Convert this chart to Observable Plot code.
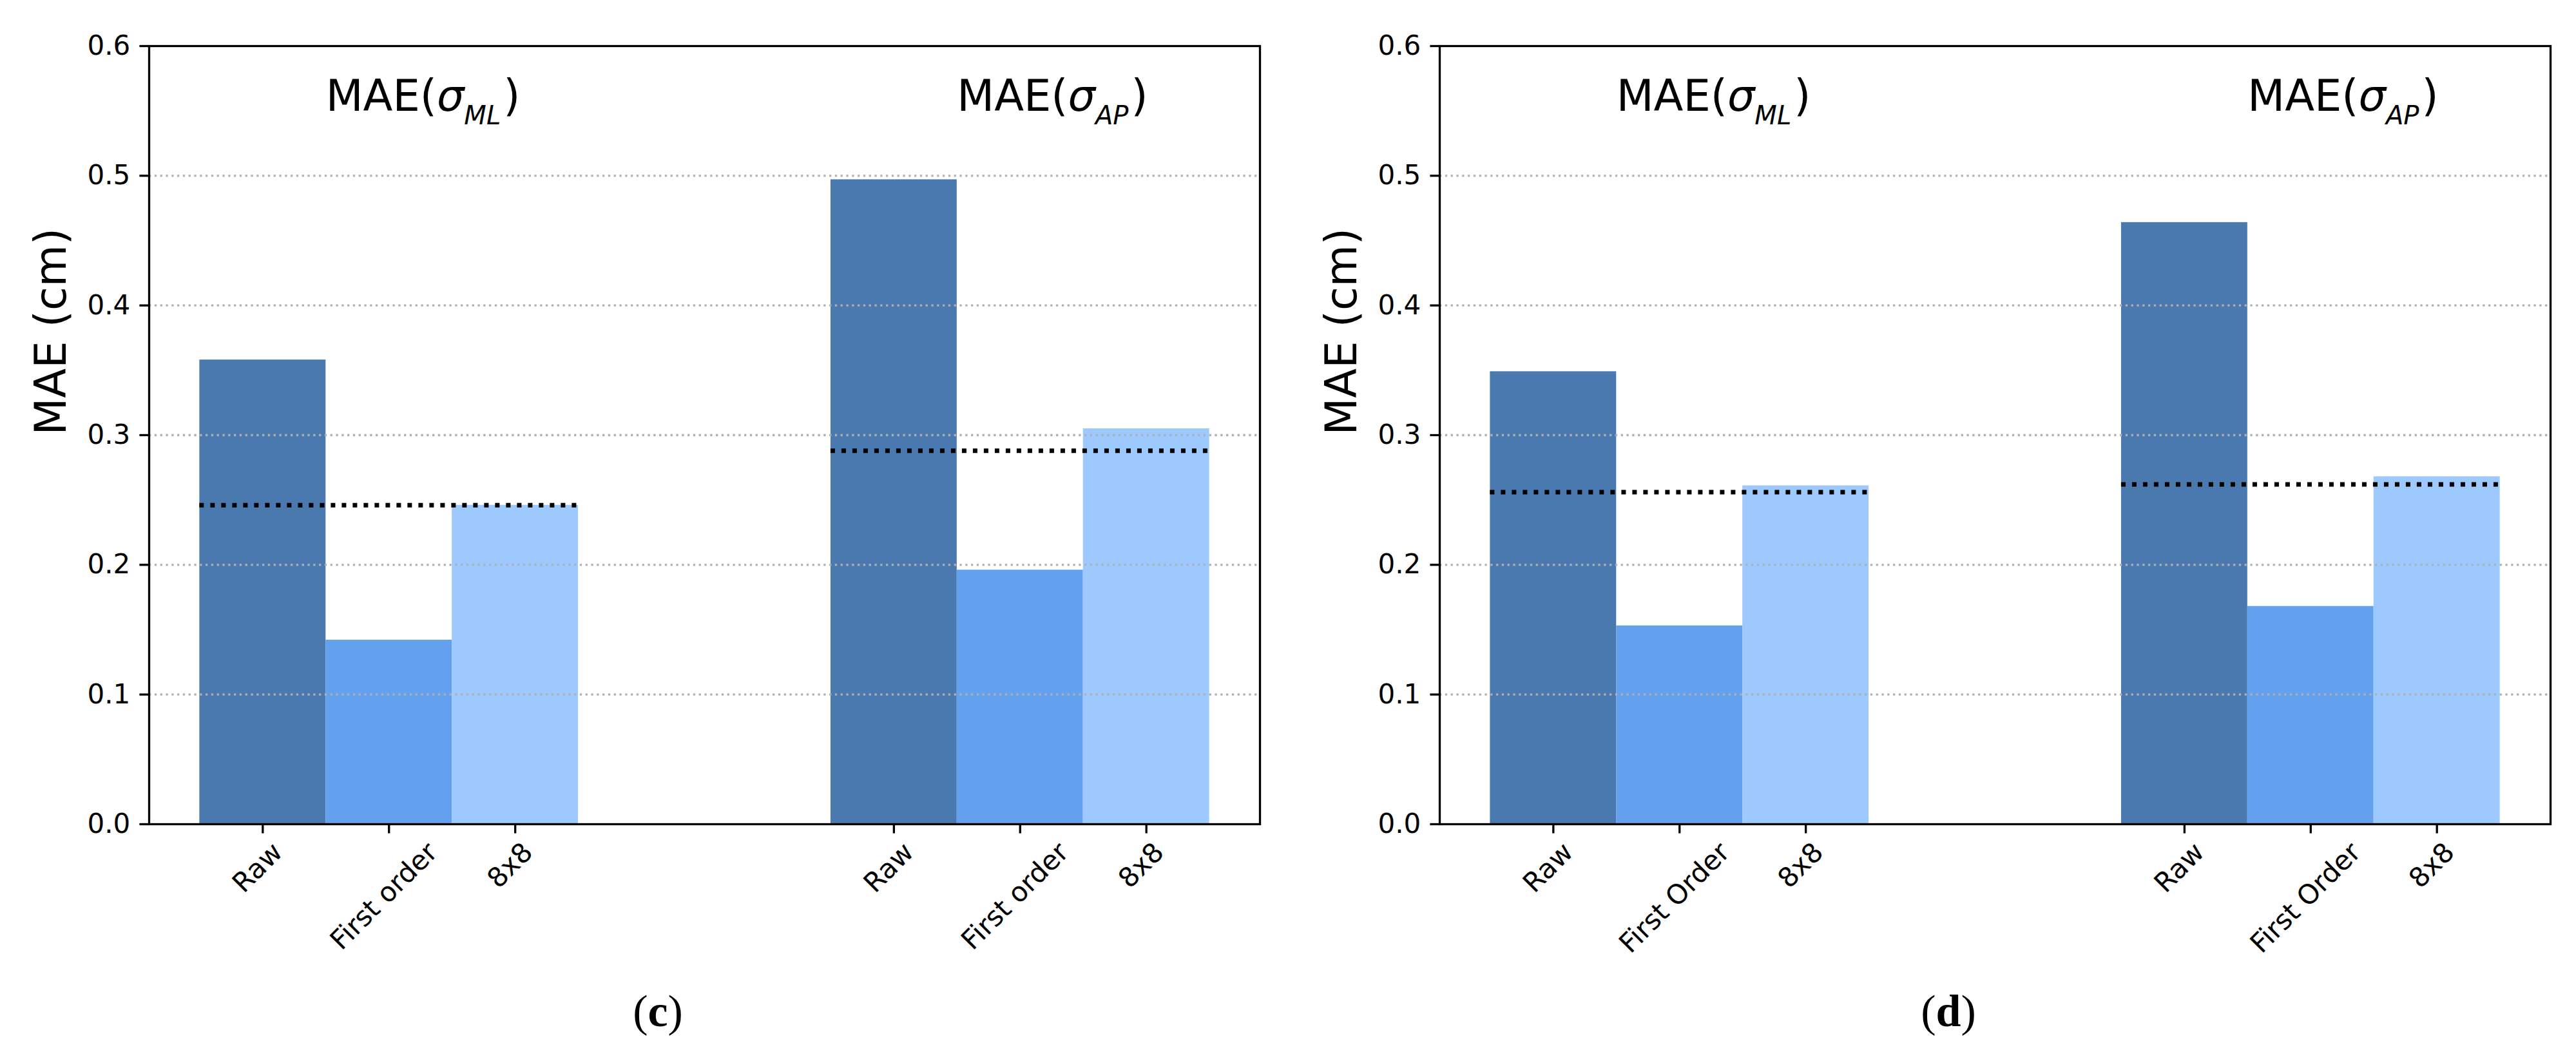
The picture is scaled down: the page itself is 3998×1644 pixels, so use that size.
<!DOCTYPE html>
<html>
<head>
<meta charset="utf-8">
<script src="https://cdn.jsdelivr.net/npm/d3@7"></script>
<script src="https://cdn.jsdelivr.net/npm/@observablehq/plot@0.6"></script>
<style>
  body { margin: 0; background: #fff; }
  #page { position: relative; width: 3998px; height: 1644px; }
  .panel { position: absolute; top: 0; width: 1999px; height: 1644px; }
  .caption { position: absolute; left: 0; width: 2042px; top: 1535px; text-align: center;
             font: 70px/1 "Liberation Serif", serif; color: #000; }
</style>
</head>
<body>
<div id="page"></div>
<script>
// groups (sigma subscripts) and bar categories
const groups = ["ML", "AP"];
const methodsC = ["Raw", "First order", "8x8"];
const methodsD = ["Raw", "First Order", "8x8"];

// panel (c)
const maeC_ML = [0.358, 0.142, 0.246];
const maeC_AP = [0.497, 0.196, 0.305];
const meanC = [0.246, 0.288];

// panel (d)
const maeD_ML = [0.349, 0.153, 0.261];
const maeD_AP = [0.464, 0.168, 0.268];
const meanD = [0.256, 0.262];

const yTicks = [0, 0.1, 0.2, 0.3, 0.4, 0.5, 0.6];
const gridTicks = [0.1, 0.2, 0.3, 0.4, 0.5];
const annotY = 0.55;

const barColors = ["#4a79b0", "#63a1ee", "#9dc9fe"];

const W = 1999, H = 1460;
const mL = 231, mR = 44, mT = 71, mB = 181;
const lw = 3.3; // matplotlib 0.8pt at 300 dpi

// canvas to measure tick label lengths (for matplotlib-like centred rotated labels)
const ctx = document.createElement("canvas").getContext("2d");
ctx.font = "42px 'DejaVu Sans'";

function panel(methods, ml, ap, means, tag, left) {
  const vals = [ml, ap];
  const slots = [...methods.map((m, i) => `${groups[0]}|${i}`), "gap1", "gap2",
                 ...methods.map((m, i) => `${groups[1]}|${i}`)];
  const rows = groups.flatMap((g, gi) => vals[gi].map((v, i) => ({slot: `${g}|${i}`, i, method: methods[i], value: v})));
  const meanRows = groups.map((g, gi) => ({x1: `${g}|0`, x2: `${g}|${methods.length - 1}`, value: means[gi]}));
  const annot = groups.map(g => ({slot: `${g}|0`, label: `MAE(σ${g})`}));
  const realSlots = rows.map(d => d.slot);
  const band = (W - mL - mR) / (slots.length + 0.8);

  const labelMarks = methods.map((m, i) => {
    const L = ctx.measureText(m).width;
    return Plot.text(rows.filter(r => r.i === i), {
      x: "slot", text: "method", frameAnchor: "bottom",
      rotate: -45, textAnchor: "end", dx: 0.354 * L + 1.75, dy: 46, fontSize: 42
    });
  });

  const chart = Plot.plot({
    width: W, height: H,
    marginLeft: mL, marginRight: mR, marginTop: mT, marginBottom: mB,
    style: {fontFamily: "'DejaVu Sans'", fontSize: "42px", background: "white", color: "black", overflow: "visible"},
    x: {type: "band", domain: slots, paddingInner: 0, paddingOuter: 0.4, round: false},
    y: {domain: [0, 0.6]},
    marks: [
      Plot.barY(rows, {x: "slot", y: "value", fill: d => barColors[d.i]}),
      Plot.gridY(gridTicks, {stroke: "#b0b0b0", strokeOpacity: 1, strokeWidth: lw, strokeDasharray: "3.3 5.5"}),
      Plot.ruleY(meanRows, {y: "value", x1: "x1", x2: "x2", stroke: "black", strokeWidth: 7, strokeDasharray: "7 10"}),
      Plot.axisY({ticks: yTicks, tickFormat: ".1f", tickSize: 14.6, tickPadding: 14.6, strokeWidth: lw, label: null, fontSize: 42}),
      Plot.axisX({ticks: realSlots, tickSize: 14.6, strokeWidth: lw, tickFormat: () => "", label: null}),
      ...labelMarks,
      Plot.text(annot, {x: "slot", y: annotY, text: "label", textAnchor: "start", lineAnchor: "bottom",
                        dx: band / 2, fontSize: 67}),
      Plot.text(["MAE (cm)"], {frameAnchor: "left", text: d => d, rotate: -90, dx: -151, fontSize: 67}),
      Plot.frame({stroke: "black", strokeWidth: lw})
    ]
  });

  // math-style subscripts for the annotations
  d3.select(chart).selectAll("text").each(function () {
    const m = this.textContent.match(/^MAE\(σ(\w+)\)$/);
    if (!m) return;
    const t = d3.select(this);
    t.selectAll("*").remove();
    t.text(null);
    t.append("tspan").text("MAE(");
    t.append("tspan").attr("font-style", "italic").text("σ");
    t.append("tspan").attr("font-style", "italic").attr("font-size", 40).attr("dy", 21).text(m[1]);
    t.append("tspan").attr("dy", -21).attr("dx", 4).text(")");
  });

  const div = d3.select("#page").append("div").attr("class", "panel").style("left", left + "px");
  div.append(() => chart);
  const cap = div.append("div").attr("class", "caption");
  cap.append("span").text("(");
  cap.append("b").text(tag);
  cap.append("span").text(")");
}

panel(methodsC, maeC_ML, maeC_AP, meanC, "c", 0);
panel(methodsD, maeD_ML, maeD_AP, meanD, "d", 2003);
</script>
</body>
</html>
